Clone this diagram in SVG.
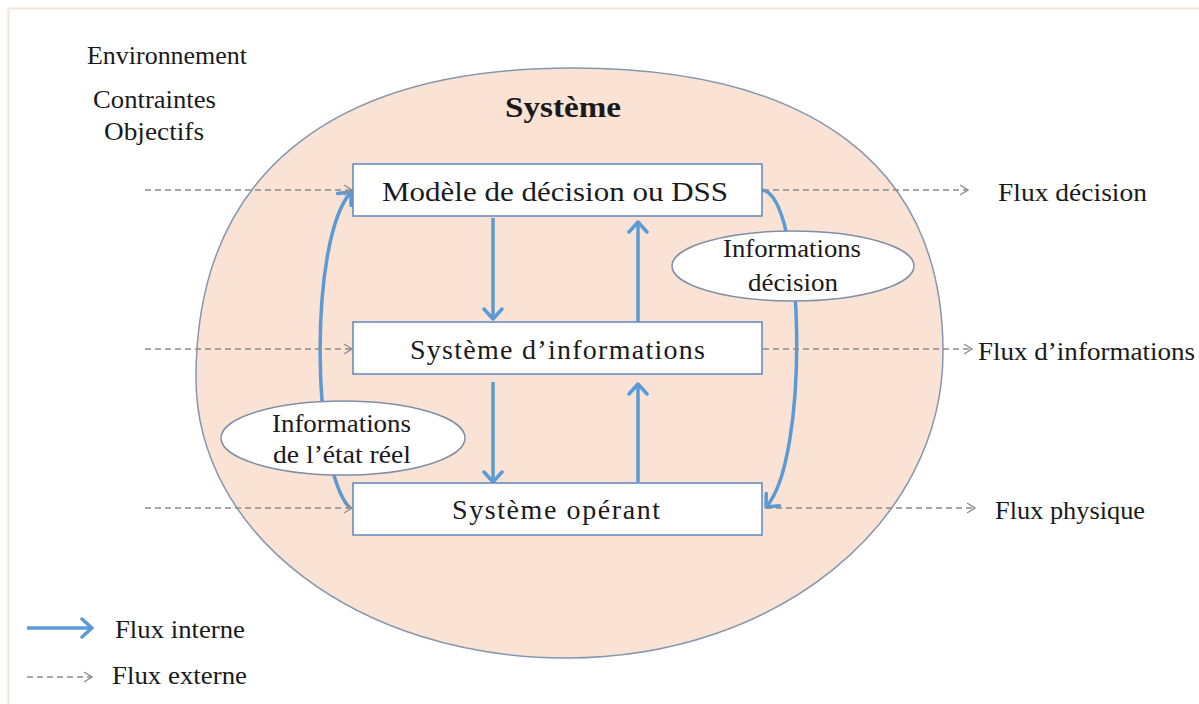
<svg xmlns="http://www.w3.org/2000/svg" width="1199" height="704" viewBox="0 0 1199 704">
<style>
text{font-family:"Liberation Serif","Times New Roman",serif;fill:#1a1a1a;}
.s{font-size:26px;}
.b{font-size:28px;}
.box{fill:#ffffff;stroke:#5f87bb;stroke-width:1.5;}
.lab{fill:#ffffff;stroke:#7f8fa8;stroke-width:1.5;}
.int{fill:none;stroke:#5b9bd5;stroke-width:3.5;}
.ext{fill:none;stroke:#8c8c8c;stroke-width:1.3;stroke-dasharray:6 4;}
</style>
<defs>
<marker id="ah" viewBox="0 0 14 22" refX="12" refY="11" markerWidth="14" markerHeight="22" markerUnits="userSpaceOnUse" orient="auto">
<path d="M2,2 L12,11 L2,20" fill="none" stroke="#5b9bd5" stroke-width="3.5" stroke-linecap="round" stroke-linejoin="round"/>
</marker>
<marker id="ag" viewBox="0 0 10 12" refX="9" refY="6" markerWidth="10" markerHeight="12" markerUnits="userSpaceOnUse" orient="auto">
<path d="M1,1 L9,6 L1,11" fill="none" stroke="#8c8c8c" stroke-width="1.3"/>
</marker>
</defs>
<rect x="0" y="0" width="1199" height="704" fill="#ffffff"/>
<rect x="8.5" y="8.5" width="1200" height="710" fill="none" stroke="#f5e4d9" stroke-width="2"/>
<g id="systeme">
<path d="M572,68 C813,68 943,167 943,352 C943,523 777,658 566,658 C359,658 196,535 196,378 C196,177 328,68 572,68 Z" fill="#fae2d4" stroke="#8497b0" stroke-width="1.5"/>
<text x="505" y="117" font-size="29" font-weight="bold" textLength="116" lengthAdjust="spacingAndGlyphs">Système</text>
</g>
<g id="environnement">
<text class="s" x="87" y="64" textLength="160" lengthAdjust="spacingAndGlyphs">Environnement</text>
<text class="s" x="93" y="108" textLength="123" lengthAdjust="spacingAndGlyphs">Contraintes</text>
<text class="s" x="104" y="140" textLength="100" lengthAdjust="spacingAndGlyphs">Objectifs</text>
</g>
<g id="connectors">
<path class="int" d="M350,508 C312,470 308,240 351,192" marker-end="url(#ah)"/>
<path class="int" d="M762,190 C805,195 810,460 766,507" marker-end="url(#ah)"/>
<line class="int" x1="493" y1="218" x2="493" y2="319" marker-end="url(#ah)"/>
<line class="int" x1="638" y1="322" x2="638" y2="222" marker-end="url(#ah)"/>
<line class="int" x1="493" y1="382" x2="493" y2="482" marker-end="url(#ah)"/>
<line class="int" x1="638" y1="482" x2="638" y2="384" marker-end="url(#ah)"/>
<line class="ext" x1="145" y1="190" x2="352" y2="190" marker-end="url(#ag)"/>
<line class="ext" x1="145" y1="349" x2="352" y2="349" marker-end="url(#ag)"/>
<line class="ext" x1="145" y1="508" x2="352" y2="508" marker-end="url(#ag)"/>
<line class="ext" x1="763" y1="190" x2="968" y2="190" marker-end="url(#ag)"/>
<line class="ext" x1="763" y1="349" x2="972" y2="349" marker-end="url(#ag)"/>
<line class="ext" x1="766" y1="508" x2="975" y2="508" marker-end="url(#ag)"/>
</g>
<g id="info-decision">
<ellipse class="lab" cx="793" cy="266" rx="121" ry="35"/>
<text class="s" x="723" y="257" textLength="138" lengthAdjust="spacingAndGlyphs">Informations</text>
<text class="s" x="748" y="291" textLength="90" lengthAdjust="spacingAndGlyphs">décision</text>
</g>
<g id="info-etat-reel">
<ellipse class="lab" cx="343" cy="438" rx="122" ry="37"/>
<text class="s" x="272" y="432" textLength="139" lengthAdjust="spacingAndGlyphs">Informations</text>
<text class="s" x="273" y="463" textLength="138" lengthAdjust="spacingAndGlyphs">de l’état réel</text>
</g>
<g id="modele-decision">
<rect class="box" x="353" y="164" width="409" height="52"/>
<text class="b" x="382" y="201" textLength="346" lengthAdjust="spacingAndGlyphs">Modèle de décision ou DSS</text>
</g>
<g id="systeme-informations">
<rect class="box" x="353" y="322" width="409" height="52"/>
<text class="b" x="410" y="359" textLength="295" lengthAdjust="spacing">Système d’informations</text>
</g>
<g id="systeme-operant">
<rect class="box" x="353" y="483" width="409" height="52"/>
<text class="b" x="452" y="519" textLength="208" lengthAdjust="spacing">Système opérant</text>
</g>
<g id="sorties">
<text class="s" x="998" y="201" textLength="149" lengthAdjust="spacingAndGlyphs">Flux décision</text>
<text class="s" x="978" y="360" textLength="217" lengthAdjust="spacingAndGlyphs">Flux d’informations</text>
<text class="s" x="995" y="519" textLength="150" lengthAdjust="spacingAndGlyphs">Flux physique</text>
</g>
<g id="legende">
<line class="int" x1="27" y1="628" x2="92" y2="628" stroke-width="4" marker-end="url(#ah)"/>
<text class="s" x="115" y="638" textLength="130" lengthAdjust="spacingAndGlyphs">Flux interne</text>
<line class="ext" x1="27" y1="677" x2="92" y2="677" marker-end="url(#ag)"/>
<text class="s" x="112" y="684" textLength="135" lengthAdjust="spacingAndGlyphs">Flux externe</text>
</g>
</svg>
